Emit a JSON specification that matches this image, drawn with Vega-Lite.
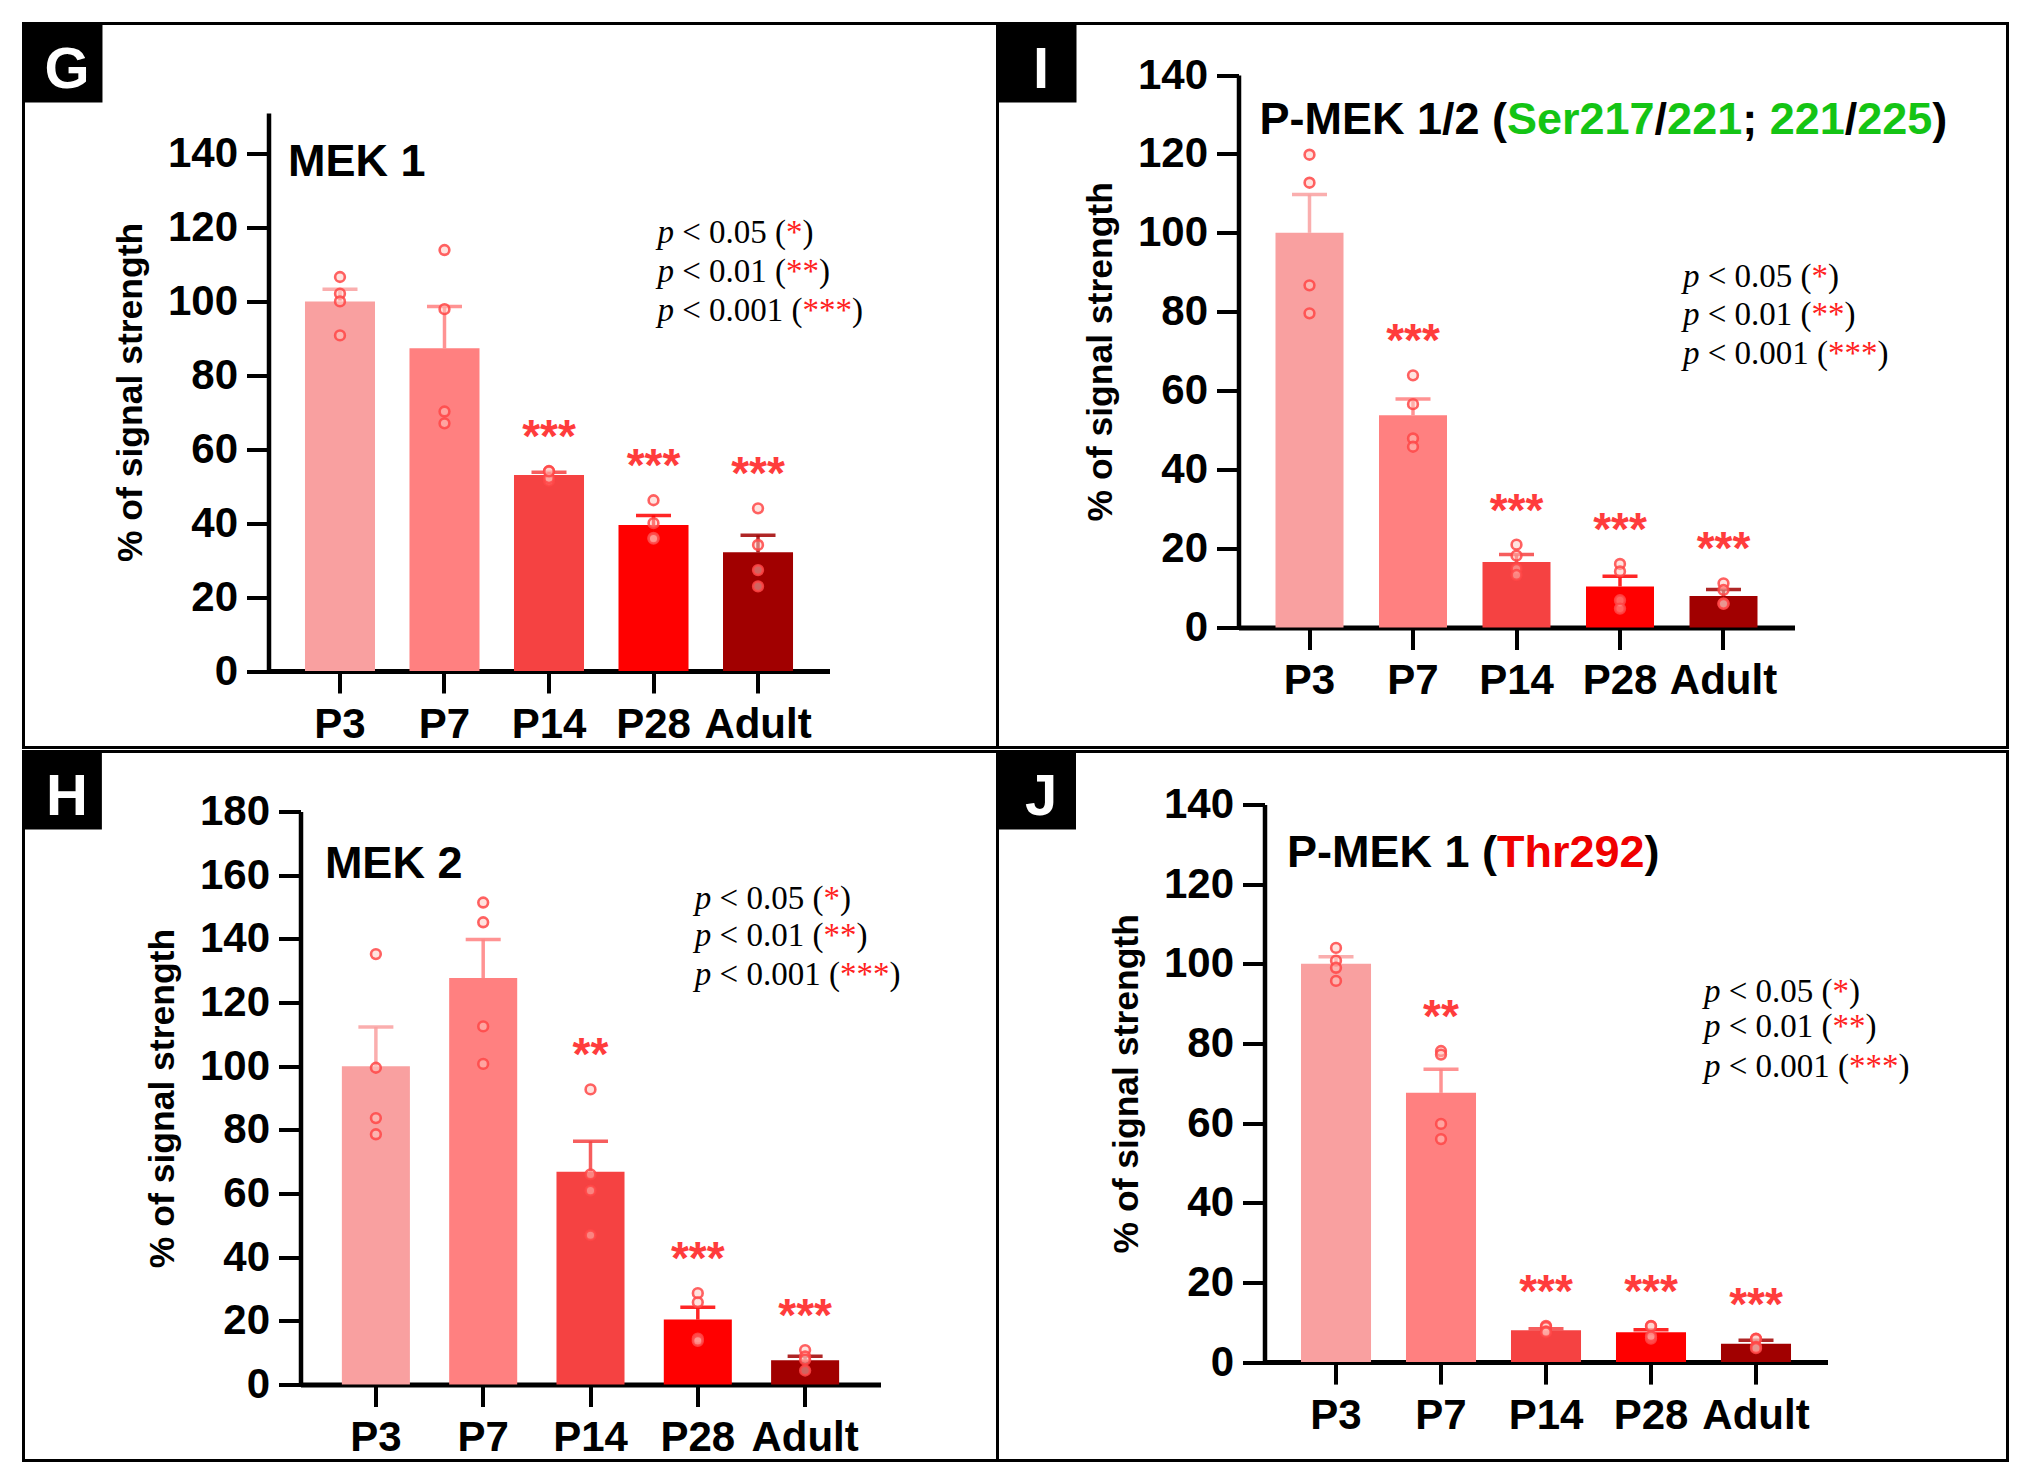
{
  "$schema": "https://vega.github.io/schema/vega-lite/v6.json",
  "background": "white",
  "padding": {"left": 21.5, "top": 21.5, "right": 10, "bottom": 10},
  "spacing": 0,
  "config": {
    "view": {"stroke": "black", "strokeWidth": 3},
    "legend": {"disable": true},
    "axis": {
      "domainColor": "black", "tickColor": "black", "labelColor": "black", "titleColor": "black",
      "labelFont": "Liberation Sans", "titleFont": "Liberation Sans",
      "labelFontWeight": "bold", "titleFontWeight": "bold",
      "labelFontSize": 42, "titleFontSize": 35.5,
      "tickSize": 22, "tickWidth": 4, "domainWidth": 4.5, "grid": false, "labelOverlap": false
    },
    "axisX": {"labelAngle": 0, "labelPadding": 11, "domainWidth": 5},
    "axisY": {"labelPadding": 9, "titlePadding": 19, "labelFlush": false}
  },
  "datasets": {
    "G_bars": [
      {"age": "P3", "mean": 100, "sem": 3.3, "sig": ""},
      {"age": "P7", "mean": 87.3, "sem": 11.3, "sig": ""},
      {"age": "P14", "mean": 53.0, "sem": 0.8, "sig": "***"},
      {"age": "P28", "mean": 39.5, "sem": 2.6, "sig": "***"},
      {"age": "Adult", "mean": 32.1, "sem": 4.6, "sig": "***"}
    ],
    "G_pts": [
      {"age": "P3", "value": 106.6}, {"age": "P3", "value": 102.1}, {"age": "P3", "value": 100.0}, {"age": "P3", "value": 90.8},
      {"age": "P7", "value": 113.9}, {"age": "P7", "value": 97.9}, {"age": "P7", "value": 70.2}, {"age": "P7", "value": 67.0},
      {"age": "P14", "value": 54.1}, {"age": "P14", "value": 51.5}, {"age": "P14", "value": 52.2}, {"age": "P14", "value": 54.0},
      {"age": "P28", "value": 46.2}, {"age": "P28", "value": 40.0}, {"age": "P28", "value": 36.0}, {"age": "P28", "value": 35.8},
      {"age": "Adult", "value": 44.0}, {"age": "Adult", "value": 34.1}, {"age": "Adult", "value": 27.3}, {"age": "Adult", "value": 22.9}
    ],
    "I_bars": [
      {"age": "P3", "mean": 100, "sem": 9.7, "sig": ""},
      {"age": "P7", "mean": 53.8, "sem": 4.1, "sig": "***"},
      {"age": "P14", "mean": 16.6, "sem": 1.9, "sig": "***"},
      {"age": "P28", "mean": 10.4, "sem": 2.6, "sig": "***"},
      {"age": "Adult", "mean": 8.0, "sem": 1.6, "sig": "***"}
    ],
    "I_pts": [
      {"age": "P3", "value": 119.8}, {"age": "P3", "value": 112.7}, {"age": "P3", "value": 86.7}, {"age": "P3", "value": 79.6},
      {"age": "P7", "value": 63.9}, {"age": "P7", "value": 56.6}, {"age": "P7", "value": 47.9}, {"age": "P7", "value": 45.8},
      {"age": "P14", "value": 21.0}, {"age": "P14", "value": 18.2}, {"age": "P14", "value": 14.9}, {"age": "P14", "value": 13.3},
      {"age": "P28", "value": 16.1}, {"age": "P28", "value": 14.2}, {"age": "P28", "value": 6.9}, {"age": "P28", "value": 4.8},
      {"age": "Adult", "value": 11.2}, {"age": "Adult", "value": 9.5}, {"age": "Adult", "value": 6.1}, {"age": "Adult", "value": 6.0}
    ],
    "H_bars": [
      {"age": "P3", "mean": 100, "sem": 12.3, "sig": ""},
      {"age": "P7", "mean": 127.7, "sem": 12.1, "sig": ""},
      {"age": "P14", "mean": 66.8, "sem": 9.6, "sig": "**"},
      {"age": "P28", "mean": 20.4, "sem": 3.9, "sig": "***"},
      {"age": "Adult", "mean": 7.6, "sem": 1.3, "sig": "***"}
    ],
    "H_pts": [
      {"age": "P3", "value": 135.2}, {"age": "P3", "value": 99.5}, {"age": "P3", "value": 83.7}, {"age": "P3", "value": 78.6},
      {"age": "P7", "value": 151.4}, {"age": "P7", "value": 145.2}, {"age": "P7", "value": 112.5}, {"age": "P7", "value": 100.7},
      {"age": "P14", "value": 92.7}, {"age": "P14", "value": 66.0}, {"age": "P14", "value": 60.9}, {"age": "P14", "value": 46.9},
      {"age": "P28", "value": 28.7}, {"age": "P28", "value": 25.8}, {"age": "P28", "value": 14.4}, {"age": "P28", "value": 13.7},
      {"age": "Adult", "value": 10.8}, {"age": "Adult", "value": 8.8}, {"age": "Adult", "value": 7.8}, {"age": "Adult", "value": 4.4}
    ],
    "J_bars": [
      {"age": "P3", "mean": 100, "sem": 1.8, "sig": ""},
      {"age": "P7", "mean": 67.6, "sem": 5.9, "sig": "**"},
      {"age": "P14", "mean": 8.0, "sem": 0.4, "sig": "***"},
      {"age": "P28", "mean": 7.5, "sem": 0.6, "sig": "***"},
      {"age": "Adult", "mean": 4.6, "sem": 0.9, "sig": "***"}
    ],
    "J_pts": [
      {"age": "P3", "value": 104.0}, {"age": "P3", "value": 100.8}, {"age": "P3", "value": 99.0}, {"age": "P3", "value": 95.7},
      {"age": "P7", "value": 78.1}, {"age": "P7", "value": 77.2}, {"age": "P7", "value": 59.8}, {"age": "P7", "value": 56.0},
      {"age": "P14", "value": 9.1}, {"age": "P14", "value": 8.8}, {"age": "P14", "value": 7.7}, {"age": "P14", "value": 7.5},
      {"age": "P28", "value": 9.1}, {"age": "P28", "value": 9.0}, {"age": "P28", "value": 5.9}, {"age": "P28", "value": 6.5},
      {"age": "Adult", "value": 5.9}, {"age": "Adult", "value": 5.8}, {"age": "Adult", "value": 3.8}, {"age": "Adult", "value": 3.5}
    ],
    "sig_key": [
      {"ln": 1, "cut": "< 0.05 (", "stars": "*"},
      {"ln": 2, "cut": "< 0.01 (", "stars": "**"},
      {"ln": 3, "cut": "< 0.001 (", "stars": "***"}
    ]
  },
  "vconcat": [
    {
      "spacing": 0,
      "bounds": "flush",
      "hconcat": [
        {
          "width": 974,
          "height": 724,
          "layer": [
            {
              "data": {"name": "G_bars"},
              "mark": {"type": "bar"},
              "encoding": {
                "x": {"field": "age", "type": "nominal", "scale": {"domain": ["P3", "P7", "P14", "P28", "Adult"], "range": [245, 806], "paddingInner": 0.33, "paddingOuter": 0.349}, "axis": {"title": null, "offset": -76.5}},
                "y": {"field": "mean", "type": "quantitative", "scale": {"domain": [0, 151], "range": [647.5, 89.4], "nice": false}, "axis": {"title": "% of signal strength", "values": [0, 20, 40, 60, 80, 100, 120, 140], "offset": -245}},
                "color": {"field": "age", "type": "nominal", "scale": {"domain": ["P3", "P7", "P14", "P28", "Adult"], "range": ["#f9a0a0", "#ff8080", "#f54242", "#ff0000", "#a10000"]}, "legend": null}
              }
            },
            {
              "data": {"name": "G_bars"},
              "transform": [{"calculate": "datum.mean + datum.sem", "as": "hi"}],
              "layer": [
                {"mark": {"type": "rule", "strokeWidth": 3.5, "opacity": 0.85}, "encoding": {"x": {"field": "age", "type": "nominal"}, "y": {"field": "mean", "type": "quantitative"}, "y2": {"field": "hi"}, "color": {"field": "age", "type": "nominal", "legend": null}}},
                {"mark": {"type": "tick", "size": 35, "thickness": 3.5, "opacity": 0.85}, "encoding": {"x": {"field": "age", "type": "nominal"}, "y": {"field": "hi", "type": "quantitative"}, "color": {"field": "age", "type": "nominal", "legend": null}}}
              ]
            },
            {
              "data": {"name": "G_pts"},
              "mark": {"type": "point", "shape": "circle", "filled": true, "size": 95, "opacity": 1, "fill": "#ffc8c0", "fillOpacity": 0.5, "stroke": "#ff4646", "strokeWidth": 2.6, "strokeOpacity": 0.85},
              "encoding": {"x": {"field": "age", "type": "nominal"}, "y": {"field": "value", "type": "quantitative"}}
            },
            {
              "data": {"name": "G_pts"},
              "transform": [
                {"aggregate": [{"op": "max", "field": "value", "as": "pmax"}], "groupby": ["age"]},
                {"lookup": "age", "from": {"data": {"name": "G_bars"}, "key": "age", "fields": ["mean", "sem", "sig"]}},
                {"calculate": "max(datum.pmax, datum.mean + datum.sem)", "as": "top"},
                {"filter": "datum.sig != ''"}
              ],
              "mark": {"type": "text", "font": "Liberation Sans", "fontWeight": "bold", "fontSize": 46, "fill": "#ff3c3c", "align": "center", "baseline": "alphabetic", "dy": -19},
              "encoding": {"x": {"field": "age", "type": "nominal"}, "y": {"field": "top", "type": "quantitative"}, "text": {"field": "sig"}}
            },
            {
              "data": {"values": [{"t": "MEK 1"}]},
              "mark": {"type": "text", "font": "Liberation Sans", "fontWeight": "bold", "fontSize": 45, "fill": "black", "align": "left", "baseline": "alphabetic", "dx": -52},
              "encoding": {"x": {"datum": "P3", "type": "nominal"}, "y": {"datum": 133.8, "type": "quantitative"}, "text": {"field": "t"}}
            },
            {
              "data": {"name": "sig_key"},
              "encoding": {"x": {"datum": "P28", "type": "nominal"}},
              "layer": [
                {
                  "transform": [{"filter": "datum.ln == 1"}],
                  "encoding": {"y": {"datum": 115.9, "type": "quantitative"}},
                  "layer": [
                    {"mark": {"type": "text", "font": "Liberation Serif", "fontStyle": "italic", "fontSize": 33, "fill": "black", "align": "left", "baseline": "alphabetic", "dx": 4}, "encoding": {"text": {"value": "p"}}},
                    {"mark": {"type": "text", "font": "Liberation Serif", "fontSize": 33, "fill": "black", "align": "left", "baseline": "alphabetic", "dx": 28.75}, "encoding": {"text": {"field": "cut"}}},
                    {"mark": {"type": "text", "font": "Liberation Serif", "fontSize": 33, "fill": "#ff2020", "align": "left", "baseline": "alphabetic", "dx": 132.6}, "encoding": {"text": {"field": "stars"}}},
                    {"mark": {"type": "text", "font": "Liberation Serif", "fontSize": 33, "fill": "black", "align": "left", "baseline": "alphabetic", "dx": 149.1}, "encoding": {"text": {"value": ")"}}}
                  ]
                },
                {
                  "transform": [{"filter": "datum.ln == 2"}],
                  "encoding": {"y": {"datum": 105.3, "type": "quantitative"}},
                  "layer": [
                    {"mark": {"type": "text", "font": "Liberation Serif", "fontStyle": "italic", "fontSize": 33, "fill": "black", "align": "left", "baseline": "alphabetic", "dx": 4}, "encoding": {"text": {"value": "p"}}},
                    {"mark": {"type": "text", "font": "Liberation Serif", "fontSize": 33, "fill": "black", "align": "left", "baseline": "alphabetic", "dx": 28.75}, "encoding": {"text": {"field": "cut"}}},
                    {"mark": {"type": "text", "font": "Liberation Serif", "fontSize": 33, "fill": "#ff2020", "align": "left", "baseline": "alphabetic", "dx": 132.6}, "encoding": {"text": {"field": "stars"}}},
                    {"mark": {"type": "text", "font": "Liberation Serif", "fontSize": 33, "fill": "black", "align": "left", "baseline": "alphabetic", "dx": 165.6}, "encoding": {"text": {"value": ")"}}}
                  ]
                },
                {
                  "transform": [{"filter": "datum.ln == 3"}],
                  "encoding": {"y": {"datum": 94.6, "type": "quantitative"}},
                  "layer": [
                    {"mark": {"type": "text", "font": "Liberation Serif", "fontStyle": "italic", "fontSize": 33, "fill": "black", "align": "left", "baseline": "alphabetic", "dx": 4}, "encoding": {"text": {"value": "p"}}},
                    {"mark": {"type": "text", "font": "Liberation Serif", "fontSize": 33, "fill": "black", "align": "left", "baseline": "alphabetic", "dx": 28.75}, "encoding": {"text": {"field": "cut"}}},
                    {"mark": {"type": "text", "font": "Liberation Serif", "fontSize": 33, "fill": "#ff2020", "align": "left", "baseline": "alphabetic", "dx": 149.1}, "encoding": {"text": {"field": "stars"}}},
                    {"mark": {"type": "text", "font": "Liberation Serif", "fontSize": 33, "fill": "black", "align": "left", "baseline": "alphabetic", "dx": 198.6}, "encoding": {"text": {"value": ")"}}}
                  ]
                }
              ]
            },
            {
              "data": {"values": [{"panel": "G"}]},
              "encoding": {"x": {"datum": "P3", "type": "nominal"}, "y": {"datum": 140, "type": "quantitative"}},
              "layer": [
                {"mark": {"type": "point", "shape": "square", "filled": true, "color": "black", "opacity": 1, "size": 6241, "xOffset": -277, "yOffset": -90.6}},
                {"mark": {"type": "text", "font": "Liberation Sans", "fontWeight": "bold", "fontSize": 58, "fill": "white", "align": "center", "baseline": "middle", "dx": -273, "dy": -83}, "encoding": {"text": {"field": "panel"}}}
              ]
            }
          ]
        },
        {
          "width": 1010,
          "height": 724,
          "layer": [
            {
              "data": {"name": "I_bars"},
              "mark": {"type": "bar"},
              "encoding": {
                "x": {"field": "age", "type": "nominal", "scale": {"domain": ["P3", "P7", "P14", "P28", "Adult"], "range": [241, 797], "paddingInner": 0.343, "paddingOuter": 0.3575}, "axis": {"title": null, "offset": -120}},
                "y": {"field": "mean", "type": "quantitative", "scale": {"domain": [0, 140], "range": [604, 51.5], "nice": false}, "axis": {"title": "% of signal strength", "values": [0, 20, 40, 60, 80, 100, 120, 140], "offset": -241}},
                "color": {"field": "age", "type": "nominal", "scale": {"domain": ["P3", "P7", "P14", "P28", "Adult"], "range": ["#f9a0a0", "#ff8080", "#f54242", "#ff0000", "#a10000"]}, "legend": null}
              }
            },
            {
              "data": {"name": "I_bars"},
              "transform": [{"calculate": "datum.mean + datum.sem", "as": "hi"}],
              "layer": [
                {"mark": {"type": "rule", "strokeWidth": 3.5, "opacity": 0.85}, "encoding": {"x": {"field": "age", "type": "nominal"}, "y": {"field": "mean", "type": "quantitative"}, "y2": {"field": "hi"}, "color": {"field": "age", "type": "nominal", "legend": null}}},
                {"mark": {"type": "tick", "size": 35, "thickness": 3.5, "opacity": 0.85}, "encoding": {"x": {"field": "age", "type": "nominal"}, "y": {"field": "hi", "type": "quantitative"}, "color": {"field": "age", "type": "nominal", "legend": null}}}
              ]
            },
            {
              "data": {"name": "I_pts"},
              "mark": {"type": "point", "shape": "circle", "filled": true, "size": 95, "opacity": 1, "fill": "#ffc8c0", "fillOpacity": 0.5, "stroke": "#ff4646", "strokeWidth": 2.6, "strokeOpacity": 0.85},
              "encoding": {"x": {"field": "age", "type": "nominal"}, "y": {"field": "value", "type": "quantitative"}}
            },
            {
              "data": {"name": "I_pts"},
              "transform": [
                {"aggregate": [{"op": "max", "field": "value", "as": "pmax"}], "groupby": ["age"]},
                {"lookup": "age", "from": {"data": {"name": "I_bars"}, "key": "age", "fields": ["mean", "sem", "sig"]}},
                {"calculate": "max(datum.pmax, datum.mean + datum.sem)", "as": "top"},
                {"filter": "datum.sig != ''"}
              ],
              "mark": {"type": "text", "font": "Liberation Sans", "fontWeight": "bold", "fontSize": 46, "fill": "#ff3c3c", "align": "center", "baseline": "alphabetic", "dy": -19},
              "encoding": {"x": {"field": "age", "type": "nominal"}, "y": {"field": "top", "type": "quantitative"}, "text": {"field": "sig"}}
            },
            {
              "data": {"values": [{"t1": "P-MEK 1/2 (", "t2": "Ser217", "t3": "/", "t4": "221", "t5": ";", "t6": "221", "t7": "/", "t8": "225", "t9": ")"}]},
              "encoding": {"x": {"datum": "P3", "type": "nominal"}, "y": {"datum": 125.0, "type": "quantitative"}},
              "layer": [
                {"mark": {"type": "text", "font": "Liberation Sans", "fontWeight": "bold", "fontSize": 45, "fill": "black", "align": "left", "baseline": "alphabetic", "dx": -50}, "encoding": {"text": {"field": "t1"}}},
                {"mark": {"type": "text", "font": "Liberation Sans", "fontWeight": "bold", "fontSize": 45, "fill": "#14c414", "align": "left", "baseline": "alphabetic", "dx": 197.5}, "encoding": {"text": {"field": "t2"}}},
                {"mark": {"type": "text", "font": "Liberation Sans", "fontWeight": "bold", "fontSize": 45, "fill": "black", "align": "left", "baseline": "alphabetic", "dx": 345.1}, "encoding": {"text": {"field": "t3"}}},
                {"mark": {"type": "text", "font": "Liberation Sans", "fontWeight": "bold", "fontSize": 45, "fill": "#14c414", "align": "left", "baseline": "alphabetic", "dx": 357.6}, "encoding": {"text": {"field": "t4"}}},
                {"mark": {"type": "text", "font": "Liberation Sans", "fontWeight": "bold", "fontSize": 45, "fill": "black", "align": "left", "baseline": "alphabetic", "dx": 432.7}, "encoding": {"text": {"field": "t5"}}},
                {"mark": {"type": "text", "font": "Liberation Sans", "fontWeight": "bold", "fontSize": 45, "fill": "#14c414", "align": "left", "baseline": "alphabetic", "dx": 460.2}, "encoding": {"text": {"field": "t6"}}},
                {"mark": {"type": "text", "font": "Liberation Sans", "fontWeight": "bold", "fontSize": 45, "fill": "black", "align": "left", "baseline": "alphabetic", "dx": 535.2}, "encoding": {"text": {"field": "t7"}}},
                {"mark": {"type": "text", "font": "Liberation Sans", "fontWeight": "bold", "fontSize": 45, "fill": "#14c414", "align": "left", "baseline": "alphabetic", "dx": 547.7}, "encoding": {"text": {"field": "t8"}}},
                {"mark": {"type": "text", "font": "Liberation Sans", "fontWeight": "bold", "fontSize": 45, "fill": "black", "align": "left", "baseline": "alphabetic", "dx": 622.8}, "encoding": {"text": {"field": "t9"}}}
              ]
            },
            {
              "data": {"name": "sig_key"},
              "encoding": {"x": {"datum": "P28", "type": "nominal"}},
              "layer": [
                {
                  "transform": [{"filter": "datum.ln == 1"}],
                  "encoding": {"y": {"datum": 86.4, "type": "quantitative"}},
                  "layer": [
                    {"mark": {"type": "text", "font": "Liberation Serif", "fontStyle": "italic", "fontSize": 33, "fill": "black", "align": "left", "baseline": "alphabetic", "dx": 63}, "encoding": {"text": {"value": "p"}}},
                    {"mark": {"type": "text", "font": "Liberation Serif", "fontSize": 33, "fill": "black", "align": "left", "baseline": "alphabetic", "dx": 87.75}, "encoding": {"text": {"field": "cut"}}},
                    {"mark": {"type": "text", "font": "Liberation Serif", "fontSize": 33, "fill": "#ff2020", "align": "left", "baseline": "alphabetic", "dx": 191.6}, "encoding": {"text": {"field": "stars"}}},
                    {"mark": {"type": "text", "font": "Liberation Serif", "fontSize": 33, "fill": "black", "align": "left", "baseline": "alphabetic", "dx": 208.1}, "encoding": {"text": {"value": ")"}}}
                  ]
                },
                {
                  "transform": [{"filter": "datum.ln == 2"}],
                  "encoding": {"y": {"datum": 76.6, "type": "quantitative"}},
                  "layer": [
                    {"mark": {"type": "text", "font": "Liberation Serif", "fontStyle": "italic", "fontSize": 33, "fill": "black", "align": "left", "baseline": "alphabetic", "dx": 63}, "encoding": {"text": {"value": "p"}}},
                    {"mark": {"type": "text", "font": "Liberation Serif", "fontSize": 33, "fill": "black", "align": "left", "baseline": "alphabetic", "dx": 87.75}, "encoding": {"text": {"field": "cut"}}},
                    {"mark": {"type": "text", "font": "Liberation Serif", "fontSize": 33, "fill": "#ff2020", "align": "left", "baseline": "alphabetic", "dx": 191.6}, "encoding": {"text": {"field": "stars"}}},
                    {"mark": {"type": "text", "font": "Liberation Serif", "fontSize": 33, "fill": "black", "align": "left", "baseline": "alphabetic", "dx": 224.6}, "encoding": {"text": {"value": ")"}}}
                  ]
                },
                {
                  "transform": [{"filter": "datum.ln == 3"}],
                  "encoding": {"y": {"datum": 66.7, "type": "quantitative"}},
                  "layer": [
                    {"mark": {"type": "text", "font": "Liberation Serif", "fontStyle": "italic", "fontSize": 33, "fill": "black", "align": "left", "baseline": "alphabetic", "dx": 63}, "encoding": {"text": {"value": "p"}}},
                    {"mark": {"type": "text", "font": "Liberation Serif", "fontSize": 33, "fill": "black", "align": "left", "baseline": "alphabetic", "dx": 87.75}, "encoding": {"text": {"field": "cut"}}},
                    {"mark": {"type": "text", "font": "Liberation Serif", "fontSize": 33, "fill": "#ff2020", "align": "left", "baseline": "alphabetic", "dx": 208.1}, "encoding": {"text": {"field": "stars"}}},
                    {"mark": {"type": "text", "font": "Liberation Serif", "fontSize": 33, "fill": "black", "align": "left", "baseline": "alphabetic", "dx": 257.6}, "encoding": {"text": {"value": ")"}}}
                  ]
                }
              ]
            },
            {
              "data": {"values": [{"panel": "I"}]},
              "encoding": {"x": {"datum": "P3", "type": "nominal"}, "y": {"datum": 140, "type": "quantitative"}},
              "layer": [
                {"mark": {"type": "point", "shape": "square", "filled": true, "color": "black", "opacity": 1, "size": 6241, "xOffset": -272.5, "yOffset": -12}},
                {"mark": {"type": "text", "font": "Liberation Sans", "fontWeight": "bold", "fontSize": 58, "fill": "white", "align": "center", "baseline": "middle", "dx": -268.5, "dy": -4.5}, "encoding": {"text": {"field": "panel"}}}
              ]
            }
          ]
        }
      ]
    },
    {
      "spacing": 0,
      "bounds": "flush",
      "hconcat": [
        {
          "width": 974,
          "height": 709,
          "layer": [
            {
              "data": {"name": "H_bars"},
              "mark": {"type": "bar"},
              "encoding": {
                "x": {"field": "age", "type": "nominal", "scale": {"domain": ["P3", "P7", "P14", "P28", "Adult"], "range": [277, 857], "paddingInner": 0.366, "paddingOuter": 0.3855}, "axis": {"title": null, "offset": -76}},
                "y": {"field": "mean", "type": "quantitative", "scale": {"domain": [0, 180], "range": [633, 60], "nice": false}, "axis": {"title": "% of signal strength", "values": [0, 20, 40, 60, 80, 100, 120, 140, 160, 180], "offset": -277}},
                "color": {"field": "age", "type": "nominal", "scale": {"domain": ["P3", "P7", "P14", "P28", "Adult"], "range": ["#f9a0a0", "#ff8080", "#f54242", "#ff0000", "#a10000"]}, "legend": null}
              }
            },
            {
              "data": {"name": "H_bars"},
              "transform": [{"calculate": "datum.mean + datum.sem", "as": "hi"}],
              "layer": [
                {"mark": {"type": "rule", "strokeWidth": 3.5, "opacity": 0.85}, "encoding": {"x": {"field": "age", "type": "nominal"}, "y": {"field": "mean", "type": "quantitative"}, "y2": {"field": "hi"}, "color": {"field": "age", "type": "nominal", "legend": null}}},
                {"mark": {"type": "tick", "size": 35, "thickness": 3.5, "opacity": 0.85}, "encoding": {"x": {"field": "age", "type": "nominal"}, "y": {"field": "hi", "type": "quantitative"}, "color": {"field": "age", "type": "nominal", "legend": null}}}
              ]
            },
            {
              "data": {"name": "H_pts"},
              "mark": {"type": "point", "shape": "circle", "filled": true, "size": 95, "opacity": 1, "fill": "#ffc8c0", "fillOpacity": 0.5, "stroke": "#ff4646", "strokeWidth": 2.6, "strokeOpacity": 0.85},
              "encoding": {"x": {"field": "age", "type": "nominal"}, "y": {"field": "value", "type": "quantitative"}}
            },
            {
              "data": {"name": "H_pts"},
              "transform": [
                {"aggregate": [{"op": "max", "field": "value", "as": "pmax"}], "groupby": ["age"]},
                {"lookup": "age", "from": {"data": {"name": "H_bars"}, "key": "age", "fields": ["mean", "sem", "sig"]}},
                {"calculate": "max(datum.pmax, datum.mean + datum.sem)", "as": "top"},
                {"filter": "datum.sig != ''"}
              ],
              "mark": {"type": "text", "font": "Liberation Sans", "fontWeight": "bold", "fontSize": 46, "fill": "#ff3c3c", "align": "center", "baseline": "alphabetic", "dy": -19},
              "encoding": {"x": {"field": "age", "type": "nominal"}, "y": {"field": "top", "type": "quantitative"}, "text": {"field": "sig"}}
            },
            {
              "data": {"values": [{"t": "MEK 2"}]},
              "mark": {"type": "text", "font": "Liberation Sans", "fontWeight": "bold", "fontSize": 45, "fill": "black", "align": "left", "baseline": "alphabetic", "dx": -51},
              "encoding": {"x": {"datum": "P3", "type": "nominal"}, "y": {"datum": 159.0, "type": "quantitative"}, "text": {"field": "t"}}
            },
            {
              "data": {"name": "sig_key"},
              "encoding": {"x": {"datum": "P28", "type": "nominal"}},
              "layer": [
                {
                  "transform": [{"filter": "datum.ln == 1"}],
                  "encoding": {"y": {"datum": 149.5, "type": "quantitative"}},
                  "layer": [
                    {"mark": {"type": "text", "font": "Liberation Serif", "fontStyle": "italic", "fontSize": 33, "fill": "black", "align": "left", "baseline": "alphabetic", "dx": -3}, "encoding": {"text": {"value": "p"}}},
                    {"mark": {"type": "text", "font": "Liberation Serif", "fontSize": 33, "fill": "black", "align": "left", "baseline": "alphabetic", "dx": 21.75}, "encoding": {"text": {"field": "cut"}}},
                    {"mark": {"type": "text", "font": "Liberation Serif", "fontSize": 33, "fill": "#ff2020", "align": "left", "baseline": "alphabetic", "dx": 125.6}, "encoding": {"text": {"field": "stars"}}},
                    {"mark": {"type": "text", "font": "Liberation Serif", "fontSize": 33, "fill": "black", "align": "left", "baseline": "alphabetic", "dx": 142.1}, "encoding": {"text": {"value": ")"}}}
                  ]
                },
                {
                  "transform": [{"filter": "datum.ln == 2"}],
                  "encoding": {"y": {"datum": 137.9, "type": "quantitative"}},
                  "layer": [
                    {"mark": {"type": "text", "font": "Liberation Serif", "fontStyle": "italic", "fontSize": 33, "fill": "black", "align": "left", "baseline": "alphabetic", "dx": -3}, "encoding": {"text": {"value": "p"}}},
                    {"mark": {"type": "text", "font": "Liberation Serif", "fontSize": 33, "fill": "black", "align": "left", "baseline": "alphabetic", "dx": 21.75}, "encoding": {"text": {"field": "cut"}}},
                    {"mark": {"type": "text", "font": "Liberation Serif", "fontSize": 33, "fill": "#ff2020", "align": "left", "baseline": "alphabetic", "dx": 125.6}, "encoding": {"text": {"field": "stars"}}},
                    {"mark": {"type": "text", "font": "Liberation Serif", "fontSize": 33, "fill": "black", "align": "left", "baseline": "alphabetic", "dx": 158.6}, "encoding": {"text": {"value": ")"}}}
                  ]
                },
                {
                  "transform": [{"filter": "datum.ln == 3"}],
                  "encoding": {"y": {"datum": 125.4, "type": "quantitative"}},
                  "layer": [
                    {"mark": {"type": "text", "font": "Liberation Serif", "fontStyle": "italic", "fontSize": 33, "fill": "black", "align": "left", "baseline": "alphabetic", "dx": -3}, "encoding": {"text": {"value": "p"}}},
                    {"mark": {"type": "text", "font": "Liberation Serif", "fontSize": 33, "fill": "black", "align": "left", "baseline": "alphabetic", "dx": 21.75}, "encoding": {"text": {"field": "cut"}}},
                    {"mark": {"type": "text", "font": "Liberation Serif", "fontSize": 33, "fill": "#ff2020", "align": "left", "baseline": "alphabetic", "dx": 142.1}, "encoding": {"text": {"field": "stars"}}},
                    {"mark": {"type": "text", "font": "Liberation Serif", "fontSize": 33, "fill": "black", "align": "left", "baseline": "alphabetic", "dx": 191.6}, "encoding": {"text": {"value": ")"}}}
                  ]
                }
              ]
            },
            {
              "data": {"values": [{"panel": "H"}]},
              "encoding": {"x": {"datum": "P3", "type": "nominal"}, "y": {"datum": 180, "type": "quantitative"}},
              "layer": [
                {"mark": {"type": "point", "shape": "square", "filled": true, "color": "black", "opacity": 1, "size": 6084, "xOffset": -313, "yOffset": -21}},
                {"mark": {"type": "text", "font": "Liberation Sans", "fontWeight": "bold", "fontSize": 58, "fill": "white", "align": "center", "baseline": "middle", "dx": -309, "dy": -13.5}, "encoding": {"text": {"field": "panel"}}}
              ]
            }
          ]
        },
        {
          "width": 1010,
          "height": 709,
          "layer": [
            {
              "data": {"name": "J_bars"},
              "mark": {"type": "bar"},
              "encoding": {
                "x": {"field": "age", "type": "nominal", "scale": {"domain": ["P3", "P7", "P14", "P28", "Adult"], "range": [267, 830], "paddingInner": 0.333, "paddingOuter": 0.3475}, "axis": {"title": null, "offset": -98.4}},
                "y": {"field": "mean", "type": "quantitative", "scale": {"domain": [0, 140], "range": [610.6, 53], "nice": false}, "axis": {"title": "% of signal strength", "values": [0, 20, 40, 60, 80, 100, 120, 140], "offset": -267}},
                "color": {"field": "age", "type": "nominal", "scale": {"domain": ["P3", "P7", "P14", "P28", "Adult"], "range": ["#f9a0a0", "#ff8080", "#f54242", "#ff0000", "#a10000"]}, "legend": null}
              }
            },
            {
              "data": {"name": "J_bars"},
              "transform": [{"calculate": "datum.mean + datum.sem", "as": "hi"}],
              "layer": [
                {"mark": {"type": "rule", "strokeWidth": 3.5, "opacity": 0.85}, "encoding": {"x": {"field": "age", "type": "nominal"}, "y": {"field": "mean", "type": "quantitative"}, "y2": {"field": "hi"}, "color": {"field": "age", "type": "nominal", "legend": null}}},
                {"mark": {"type": "tick", "size": 35, "thickness": 3.5, "opacity": 0.85}, "encoding": {"x": {"field": "age", "type": "nominal"}, "y": {"field": "hi", "type": "quantitative"}, "color": {"field": "age", "type": "nominal", "legend": null}}}
              ]
            },
            {
              "data": {"name": "J_pts"},
              "mark": {"type": "point", "shape": "circle", "filled": true, "size": 95, "opacity": 1, "fill": "#ffc8c0", "fillOpacity": 0.5, "stroke": "#ff4646", "strokeWidth": 2.6, "strokeOpacity": 0.85},
              "encoding": {"x": {"field": "age", "type": "nominal"}, "y": {"field": "value", "type": "quantitative"}}
            },
            {
              "data": {"name": "J_pts"},
              "transform": [
                {"aggregate": [{"op": "max", "field": "value", "as": "pmax"}], "groupby": ["age"]},
                {"lookup": "age", "from": {"data": {"name": "J_bars"}, "key": "age", "fields": ["mean", "sem", "sig"]}},
                {"calculate": "max(datum.pmax, datum.mean + datum.sem)", "as": "top"},
                {"filter": "datum.sig != ''"}
              ],
              "mark": {"type": "text", "font": "Liberation Sans", "fontWeight": "bold", "fontSize": 46, "fill": "#ff3c3c", "align": "center", "baseline": "alphabetic", "dy": -19},
              "encoding": {"x": {"field": "age", "type": "nominal"}, "y": {"field": "top", "type": "quantitative"}, "text": {"field": "sig"}}
            },
            {
              "data": {"values": [{"t1": "P-MEK 1 (", "t2": "Thr292", "t3": ")"}]},
              "encoding": {"x": {"datum": "P3", "type": "nominal"}, "y": {"datum": 124.4, "type": "quantitative"}},
              "layer": [
                {"mark": {"type": "text", "font": "Liberation Sans", "fontWeight": "bold", "fontSize": 45, "fill": "black", "align": "left", "baseline": "alphabetic", "dx": -49}, "encoding": {"text": {"field": "t1"}}},
                {"mark": {"type": "text", "font": "Liberation Sans", "fontWeight": "bold", "fontSize": 45, "fill": "#f00000", "align": "left", "baseline": "alphabetic", "dx": 161}, "encoding": {"text": {"field": "t2"}}},
                {"mark": {"type": "text", "font": "Liberation Sans", "fontWeight": "bold", "fontSize": 45, "fill": "black", "align": "left", "baseline": "alphabetic", "dx": 308.6}, "encoding": {"text": {"field": "t3"}}}
              ]
            },
            {
              "data": {"name": "sig_key"},
              "encoding": {"x": {"datum": "P28", "type": "nominal"}},
              "layer": [
                {
                  "transform": [{"filter": "datum.ln == 1"}],
                  "encoding": {"y": {"datum": 90.3, "type": "quantitative"}},
                  "layer": [
                    {"mark": {"type": "text", "font": "Liberation Serif", "fontStyle": "italic", "fontSize": 33, "fill": "black", "align": "left", "baseline": "alphabetic", "dx": 53}, "encoding": {"text": {"value": "p"}}},
                    {"mark": {"type": "text", "font": "Liberation Serif", "fontSize": 33, "fill": "black", "align": "left", "baseline": "alphabetic", "dx": 77.75}, "encoding": {"text": {"field": "cut"}}},
                    {"mark": {"type": "text", "font": "Liberation Serif", "fontSize": 33, "fill": "#ff2020", "align": "left", "baseline": "alphabetic", "dx": 181.6}, "encoding": {"text": {"field": "stars"}}},
                    {"mark": {"type": "text", "font": "Liberation Serif", "fontSize": 33, "fill": "black", "align": "left", "baseline": "alphabetic", "dx": 198.1}, "encoding": {"text": {"value": ")"}}}
                  ]
                },
                {
                  "transform": [{"filter": "datum.ln == 2"}],
                  "encoding": {"y": {"datum": 81.5, "type": "quantitative"}},
                  "layer": [
                    {"mark": {"type": "text", "font": "Liberation Serif", "fontStyle": "italic", "fontSize": 33, "fill": "black", "align": "left", "baseline": "alphabetic", "dx": 53}, "encoding": {"text": {"value": "p"}}},
                    {"mark": {"type": "text", "font": "Liberation Serif", "fontSize": 33, "fill": "black", "align": "left", "baseline": "alphabetic", "dx": 77.75}, "encoding": {"text": {"field": "cut"}}},
                    {"mark": {"type": "text", "font": "Liberation Serif", "fontSize": 33, "fill": "#ff2020", "align": "left", "baseline": "alphabetic", "dx": 181.6}, "encoding": {"text": {"field": "stars"}}},
                    {"mark": {"type": "text", "font": "Liberation Serif", "fontSize": 33, "fill": "black", "align": "left", "baseline": "alphabetic", "dx": 214.6}, "encoding": {"text": {"value": ")"}}}
                  ]
                },
                {
                  "transform": [{"filter": "datum.ln == 3"}],
                  "encoding": {"y": {"datum": 71.5, "type": "quantitative"}},
                  "layer": [
                    {"mark": {"type": "text", "font": "Liberation Serif", "fontStyle": "italic", "fontSize": 33, "fill": "black", "align": "left", "baseline": "alphabetic", "dx": 53}, "encoding": {"text": {"value": "p"}}},
                    {"mark": {"type": "text", "font": "Liberation Serif", "fontSize": 33, "fill": "black", "align": "left", "baseline": "alphabetic", "dx": 77.75}, "encoding": {"text": {"field": "cut"}}},
                    {"mark": {"type": "text", "font": "Liberation Serif", "fontSize": 33, "fill": "#ff2020", "align": "left", "baseline": "alphabetic", "dx": 198.1}, "encoding": {"text": {"field": "stars"}}},
                    {"mark": {"type": "text", "font": "Liberation Serif", "fontSize": 33, "fill": "black", "align": "left", "baseline": "alphabetic", "dx": 247.6}, "encoding": {"text": {"value": ")"}}}
                  ]
                }
              ]
            },
            {
              "data": {"values": [{"panel": "J"}]},
              "encoding": {"x": {"datum": "P3", "type": "nominal"}, "y": {"datum": 140, "type": "quantitative"}},
              "layer": [
                {"mark": {"type": "point", "shape": "square", "filled": true, "color": "black", "opacity": 1, "size": 6084, "xOffset": -299, "yOffset": -14}},
                {"mark": {"type": "text", "font": "Liberation Sans", "fontWeight": "bold", "fontSize": 58, "fill": "white", "align": "center", "baseline": "middle", "dx": -295, "dy": -6.5}, "encoding": {"text": {"field": "panel"}}}
              ]
            }
          ]
        }
      ]
    }
  ]
}
